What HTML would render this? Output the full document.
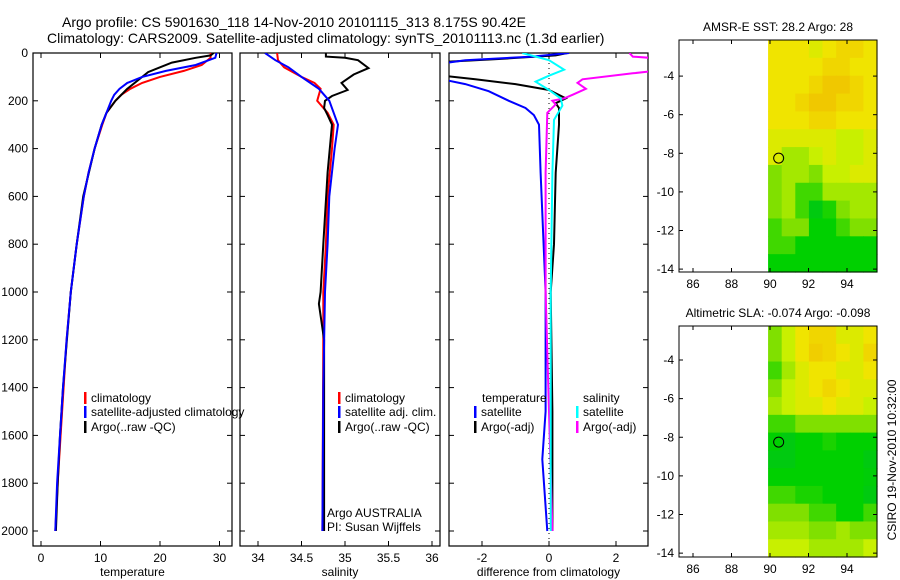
<!DOCTYPE html>
<html><head><meta charset="utf-8"><style>
body{margin:0;background:#fff;}
svg{display:block;font-family:"Liberation Sans",sans-serif;}
</style></head><body>
<svg id="c" width="900" height="580" xmlns="http://www.w3.org/2000/svg"></svg>
<script>
// ---- profile data (depth in dbar) ----
const tDepth=[0,20,50,75,100,125,150,175,200,250,300,400,500,600,800,1000,1200,1400,1600,1800,2000];
const tClim=[28.5,28.5,27,24,20,17,15,13.5,12.5,11,10.3,9,8,7.2,6,5,4.3,3.8,3.3,2.8,2.4];
const tSat=[29.5,29.3,26,21,17,14.5,13.2,12.3,11.8,11,10.2,9,8,7.2,6,5,4.3,3.7,3.2,2.7,2.4];
const tArgoDepth=[0,10,20,40,60,80,100,150,200,250,300,400,600,800,1000,1400,1600,1800,2000];
const tArgo=[29,28.5,26,22,20,18,17,14.5,12.5,11,10.2,9,7.1,6,5,3.7,3.2,2.8,2.5];
const sDepth=[0,30,60,100,125,150,200,250,300,400,600,800,1000,1200,2000];
const sClim=[34.22,34.23,34.3,34.5,34.65,34.72,34.68,34.8,34.87,34.85,34.8,34.78,34.75,34.75,34.74];
const sSatDepth=[0,30,60,100,150,200,300,400,600,800,1000,1400,2000];
const sSat=[34.08,34.2,34.35,34.5,34.7,34.82,34.92,34.88,34.82,34.8,34.77,34.75,34.74];
const sArgoDepth=[0,15,20,30,63,90,125,155,180,200,230,260,300,500,800,1000,1050,1200,1600,2000];
const sArgo=[34.78,34.78,35.0,35.15,35.27,35.1,34.96,35.03,34.85,34.77,34.76,34.8,34.85,34.8,34.75,34.72,34.7,34.76,34.76,34.76];
const dTSatDepth=[0,15,30,50,80,110,130,160,200,230,260,300,500,1000,1500,1700,2000];
const dTSat=[0.6,-0.5,-2.5,-3.5,-3.5,-3.2,-2.5,-1.8,-1.2,-0.7,-0.45,-0.3,-0.25,-0.1,-0.1,-0.2,-0.05];
const dTArgoDepth=[0,10,25,40,90,110,130,155,190,210,230,300,500,800,1000,1500,2000];
const dTArgo=[0.55,0.2,-1.5,-3.5,-3.5,-2.2,-1,0,0.5,0.2,0.3,0.3,0.2,0.15,0.05,0.1,0.1];
const dSSatDepth=[0,30,70,95,120,155,190,220,280,500,1000,2000];
const dSSat=[-0.8,0,0.45,0,-0.4,0,0.35,0.4,0.15,0.1,0.05,0.05];
const dSArgoDepth=[0,15,25,70,85,110,125,150,175,190,200,215,250,500,1000,2000];
const dSArgo=[2.4,2.5,3.5,3.5,2.5,1.0,0.85,1.1,0.7,0.45,0.1,0.2,-0.05,-0.1,-0.1,0.1];
const depthTicks=[0,200,400,600,800,1000,1200,1400,1600,1800,2000];
const tTicks=[0,10,20,30];
const sTicks=[34,34.5,35,35.5,36];
const dTicks=[-2,0,2];
// ---- map data (rows top->bottom, 8 cols, 0=dark green .. 5=orange) ----
const sstGrid=[
[4,4,4,3.5,4,4.5,4.5,4],[4,4,4,4,4.5,4.5,4,4],[4,4,4,4.5,5,5,4.5,4],[4,4,4.5,5,5,4.5,4.5,4],
[4,4,4,4.5,4.5,4,4,4],[3.5,3.5,3.5,3.5,3.5,3,3,3.5],[3.5,2.5,2.5,3,3.5,3,3,3.5],[2,2.5,2.5,2,3,3,3.5,3.5],
[2,2.5,1.5,1.5,2.5,2.5,2.5,2.5],[2,2.5,1.5,0.8,1.2,2,2.5,2.5],[1.5,2,2,1,1,1.5,2,2],[1.5,1.5,1,1,1,1,1,1],[1,1,1,1,1,1,1,1]];
const slaGrid=[
[2,3,4,4.5,4.5,3.5,3.5,4],[2,3,4,4.8,4.5,4,3.5,4.5],[1.5,2.5,3.5,4,4,3.5,3.5,4],[2,3,3.5,4,4.5,4,3.5,3.5],
[2.5,3,3.5,3.5,4,3.5,3.5,3],[1.5,1.5,2,2,2,2,2,2],[1,0.8,1,1,1.2,1,1,1],[0.8,0.8,1,1,1,1,1,0.8],
[1,1,1,1,1,1,1,0.9],[1.5,1.5,1.2,1.2,1,1,1,0.8],[2,2,2,1.5,1.5,1,1,1.5],[2.5,2.5,2.5,2,2,2.5,2,2],[3,3,3,2.5,2.5,2.5,2.5,3]];
const lonTicks=[86,88,90,92,94];
const latTicks=[-4,-6,-8,-10,-12,-14];
const floatLon=90.45, floatLat=-8.25;

const NS="http://www.w3.org/2000/svg";
const svg=document.getElementById('c');
function mk(tag,attrs,parent){const e=document.createElementNS(NS,tag);for(const k in attrs)e.setAttribute(k,attrs[k]);(parent||svg).appendChild(e);return e;}
function txt(x,y,s,size,anchor,parent){const t=mk('text',{x:x,y:y,'font-size':size,'text-anchor':anchor||'middle',fill:'#000'},parent);t.textContent=s;return t;}

const TOP=53, DPX=0.239;
const yD=d=>TOP+d*DPX;
const panels=[
 {x0:33,x1:232,sx:v=>41+v*5.95,ticks:tTicks,label:'temperature',name:'temperature-panel'},
 {x0:240,x1:440,sx:v=>258+(v-34)*87,ticks:sTicks,label:'salinity',name:'salinity-panel'},
 {x0:449,x1:648,sx:v=>549+v*33.5,ticks:dTicks,label:'difference from climatology',name:'difference-panel'}];
const BOT=546;
panels.forEach((p,i)=>{
 const g=mk('g',{});
 
 
 mk('clipPath',{id:'cp'+i},g);
 mk('rect',{x:p.x0,y:TOP,width:p.x1-p.x0,height:BOT-TOP},document.getElementById('cp'+i));
 mk('rect',{x:p.x0,y:TOP,width:p.x1-p.x0,height:BOT-TOP,fill:'none',stroke:'#000','stroke-width':1.2},g);
 p.ticks.forEach(v=>{const x=p.sx(v);mk('line',{x1:x,x2:x,y1:BOT,y2:BOT-5,stroke:'#000'},g);mk('line',{x1:x,x2:x,y1:TOP,y2:TOP+5,stroke:'#000'},g);
   const t=txt(x,562,String(v),12,'middle',g);});
 depthTicks.forEach(d=>{const y=yD(d);mk('line',{x1:p.x0,x2:p.x0+5,y1:y,y2:y,stroke:'#000'},g);mk('line',{x1:p.x1,x2:p.x1-5,y1:y,y2:y,stroke:'#000'},g);
   if(i==0){const t=txt(28,y+4,String(d),12,'end',g);}});
 const xl=txt((p.x0+p.x1)/2,576,p.label,12,'middle',g);
 
 p.g=g;
});
function line(pi,depths,vals,color,name){
 const p=panels[pi];
 const pts=depths.map((d,k)=>p.sx(vals[k]).toFixed(1)+','+yD(d).toFixed(1)).join(' ');
 const l=mk('polyline',{points:pts,fill:'none',stroke:color,'stroke-width':2,'clip-path':'url(#cp'+pi+')'},p.g);
 
 
}
// zero line
const zl=mk('line',{x1:549,x2:549,y1:TOP,y2:BOT,stroke:'#000','stroke-dasharray':'1,4'},panels[2].g);


line(0,tDepth,tClim,'#f00','temp-climatology-line');
line(0,tArgoDepth,tArgo,'#000','temp-argo-line');
line(0,tDepth,tSat,'#00f','temp-satellite-line');
line(1,sDepth,sClim,'#f00','sal-climatology-line');
line(1,sArgoDepth,sArgo,'#000','sal-argo-line');
line(1,sSatDepth,sSat,'#00f','sal-satellite-line');
line(2,dTArgoDepth,dTArgo,'#000','dtemp-argo-line');
line(2,dTSatDepth,dTSat,'#00f','dtemp-satellite-line');
line(2,dSArgoDepth,dSArgo,'#f0f','dsal-argo-line');
line(2,dSSatDepth,dSSat,'#0ff','dsal-satellite-line');

function legend(x,y,color,label,parent){
 const g=mk('g',{},parent);
 
 
 mk('rect',{x:x,y:y-10,width:2.5,height:12,fill:color},g);
 txt(x+7,y,label,12,'start',g);
}
legend(84,402,'#f00','climatology',panels[0].g);
legend(84,416,'#00f','satellite-adjusted climatology',panels[0].g);
legend(84,431,'#000','Argo(..raw -QC)',panels[0].g);
legend(338,402,'#f00','climatology',panels[1].g);
legend(338,416,'#00f','satellite adj. clim.',panels[1].g);
legend(338,431,'#000','Argo(..raw -QC)',panels[1].g);
txt(482,402,'temperature',12,'start',panels[2].g);
txt(583,402,'salinity',12,'start',panels[2].g);
legend(474,416,'#00f','satellite',panels[2].g);
legend(474,431,'#000','Argo(-adj)',panels[2].g);
legend(576,416,'#0ff','satellite',panels[2].g);
legend(576,431,'#f0f','Argo(-adj)',panels[2].g);
const cr=mk('text',{x:327,y:517,'font-size':12,'text-anchor':'start'},panels[1].g);cr.textContent='Argo AUSTRALIA';

const cr2=mk('text',{x:327,y:531,'font-size':12,'text-anchor':'start'},panels[1].g);cr2.textContent='PI: Susan Wijffels';


const t1=txt(62,27,'Argo profile: CS 5901630_118 14-Nov-2010 20101115_313 8.175S 90.42E',14,'start');

const t2=txt(47,43,'Climatology: CARS2009. Satellite-adjusted climatology: synTS_20101113.nc (1.3d earlier)',14,'start');


// ---- maps ----
const pal=[[0,176,80],[0,208,0],[128,224,0],[200,240,0],[240,228,0],[240,200,0]];
function col(v){const i=Math.min(4,Math.floor(v)),f=v-i;const a=pal[i],b=pal[i+1];
 return 'rgb('+a.map((c,k)=>Math.round(c+(b[k]-c)*f)).join(',')+')';}
function map(fy0,fy1,latTop,latBot,grid,title,name){
 const g=mk('g',{});
 
 
 const fx0=679,fx1=877;
 const lx=lon=>770+(lon-90)*19.25;
 const ly=lat=>fy0+(latTop-lat)/(latTop-latBot)*(fy1-fy0);
 const dx0=lx(89.9),dw=(fx1-dx0)/grid[0].length,dh=(fy1-fy0)/grid.length;
 grid.forEach((row,r)=>row.forEach((v,c)=>{
   const cell=mk('rect',{x:dx0+c*dw,y:fy0+r*dh,width:dw+0.6,height:dh+0.6,fill:col(v)},g);
   
   
 }));
 mk('rect',{x:fx0,y:fy0,width:fx1-fx0,height:fy1-fy0,fill:'none',stroke:'#000'},g);
 lonTicks.forEach(l=>{const x=lx(l);mk('line',{x1:x,x2:x,y1:fy1,y2:fy1-4,stroke:'#000'},g);mk('line',{x1:x,x2:x,y1:fy0,y2:fy0+4,stroke:'#000'},g);txt(x,fy1+16,String(l),12,'middle',g);});
 latTicks.forEach(l=>{const y=ly(l);mk('line',{x1:fx0,x2:fx0+4,y1:y,y2:y,stroke:'#000'},g);mk('line',{x1:fx1,x2:fx1-4,y1:y,y2:y,stroke:'#000'},g);txt(fx0-5,y+4,String(l),12,'end',g);});
 const c=mk('circle',{cx:lx(floatLon),cy:ly(floatLat),r:5,fill:'none',stroke:'#000'},g);
 
 
 const t=txt(778,fy0-9,title,12,'middle',g);
 
}
map(40,272,-2.13,-14.15,sstGrid,'AMSR-E SST: 28.2 Argo: 28','sst-map');
map(326,557,-2.24,-14.2,slaGrid,'Altimetric SLA: -0.074 Argo: -0.098','sla-map');
const cs=mk('text',{x:0,y:0,'font-size':12,'text-anchor':'middle',transform:'translate(896,460) rotate(-90)'});
cs.textContent='CSIRO 19-Nov-2010 10:32:00';

</script>
</body></html>
